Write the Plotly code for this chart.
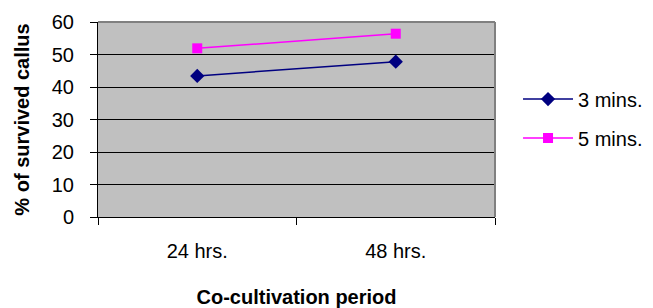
import plotly.graph_objects as go

periods = ["24 hrs.", "48 hrs."]
mins3 = [43.4, 47.8]
mins5 = [51.9, 56.4]
series_names = ["3 mins.", "5 mins."]

fig = go.Figure()
fig.add_trace(go.Scatter(
    x=periods, y=mins3, name=series_names[0], mode="lines+markers",
    legendgroup="a",
    line=dict(color="#000080", width=1.5),
    marker=dict(symbol="diamond", size=11, color="#000080"),
))
fig.add_trace(go.Scatter(
    x=periods, y=mins5, name=series_names[1], mode="lines+markers",
    legendgroup="b",
    line=dict(color="#FF00FF", width=1.5),
    marker=dict(symbol="square", size=10, color="#FF00FF"),
))

font_family = "Liberation Sans, Arial, sans-serif"
fig.update_layout(
    width=645, height=300,
    margin=dict(l=90, r=158, t=14, b=91, autoexpand=False),
    paper_bgcolor="white",
    plot_bgcolor="#C0C0C0",
    font=dict(family=font_family, color="black"),
    showlegend=True,
    legend=dict(
        x=1.058, y=0.505, xanchor="left", yanchor="middle",
        font=dict(size=20, family=font_family),
        bgcolor="rgba(0,0,0,0)", itemwidth=50, tracegroupgap=10,
        traceorder="grouped",
    ),
    xaxis=dict(
        type="category",
        tickson="boundaries",
        ticks="outside", ticklen=7, tickcolor="black",
        showline=True, linecolor="black", linewidth=1,
        showgrid=False,
        tickfont=dict(size=20),
        ticklabelstandoff=16,
        title=dict(text="<b>Co-cultivation period</b>", font=dict(size=20), standoff=29),
        range=[-0.5, 1.5],
        automargin=False,
    ),
    yaxis=dict(
        range=[0, 60], dtick=10,
        ticks="outside", ticklen=7, tickcolor="black",
        showline=True, linecolor="black", linewidth=1,
        showgrid=True, gridcolor="black", gridwidth=1,
        tickfont=dict(size=20),
        ticklabelstandoff=12,
        title=dict(text="<b>% of survived callus</b>", font=dict(size=20), standoff=16),
        zeroline=False,
        automargin=False,
    ),
    shapes=[
        dict(type="line", xref="paper", yref="paper", x0=0, x1=1, y0=1, y1=1,
             line=dict(color="#808080", width=2)),
        dict(type="line", xref="paper", yref="paper", x0=1, x1=1, y0=0, y1=1,
             line=dict(color="#808080", width=2)),
    ],
)

fig.write_html("out.html")
